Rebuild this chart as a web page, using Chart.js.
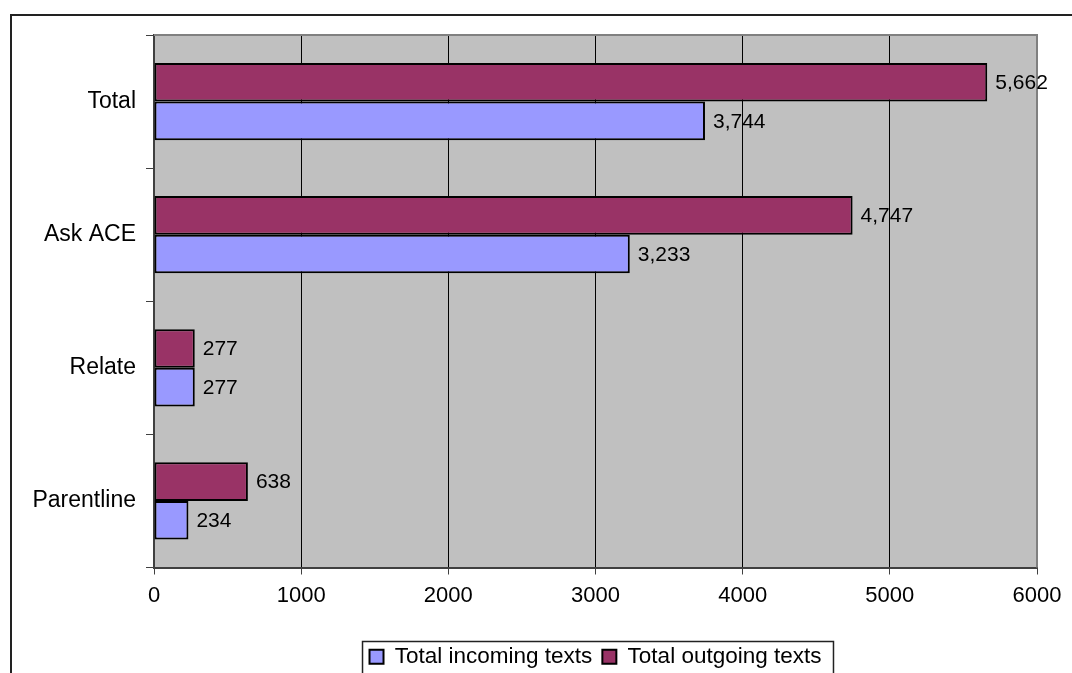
<!DOCTYPE html>
<html>
<head>
<meta charset="utf-8">
<script src="https://cdn.jsdelivr.net/npm/chart.js@4/dist/chart.umd.min.js"></script>
<style>
    html, body { margin: 0; padding: 0; background: #fff; overflow: hidden; }
    #frame { position: absolute; left: 10px; top: 14px; width: 1100px; height: 700px; border: 2px solid #222; }
    #chart { position: absolute; left: 0; top: 0; }
</style>
</head>
<body>
<div id="frame"></div>
<canvas id="chart" width="1100" height="678"></canvas>
<script>
const categories = ["Total", "Ask ACE", "Relate", "Parentline"];
const outgoingTexts = [5662, 4747, 277, 638];
const incomingTexts = [3744, 3233, 277, 234];

const C_OUT = "#993366";
const C_IN = "#9999FF";
const FONT = "'Liberation Sans', Arial, sans-serif";

Chart.defaults.font.family = FONT;
Chart.defaults.font.size = 21;
Chart.defaults.color = "#000";

// grey plot background + top/right border
const plotArea = {
    id: "plotArea",
    beforeDraw(chart) {
        const {ctx, chartArea: a} = chart;
        ctx.save();
        ctx.fillStyle = "#C0C0C0";
        ctx.fillRect(a.left, a.top, a.right - a.left, a.bottom - a.top);
        ctx.restore();
    },
    beforeDatasetsDraw(chart) {
        const {ctx, chartArea: a} = chart;
        ctx.save();
        ctx.strokeStyle = "#808080";
        ctx.lineWidth = 2;
        ctx.beginPath();
        ctx.moveTo(a.left, a.top);
        ctx.lineTo(a.right, a.top);
        ctx.lineTo(a.right, a.bottom);
        ctx.stroke();
        ctx.restore();
    }
};

// value labels at the end of each bar
const barLabels = {
    id: "barLabels",
    afterDatasetsDraw(chart) {
        const {ctx} = chart;
        ctx.save();
        ctx.font = "21px " + FONT;
        ctx.fillStyle = "#000";
        ctx.textAlign = "left";
        ctx.textBaseline = "middle";
        chart.data.datasets.forEach((ds, i) => {
            chart.getDatasetMeta(i).data.forEach((bar, j) => {
                ctx.fillText(ds.data[j].toLocaleString("en-US"), bar.x + 8, bar.y + 1);
            });
        });
        ctx.restore();
    }
};

// box round the legend
const legendBox = {
    id: "legendBox",
    afterDraw(chart) {
        const lg = chart.legend;
        if (!lg || !lg.legendHitBoxes.length) return;
        const boxes = lg.legendHitBoxes;
        const left = Math.min(...boxes.map(b => b.left)) - 7;
        const right = Math.max(...boxes.map(b => b.left + b.width)) + 12;
        const top = Math.min(...boxes.map(b => b.top)) - 4;
        const {ctx} = chart;
        ctx.save();
        ctx.strokeStyle = "#222";
        ctx.lineWidth = 1.5;
        ctx.strokeRect(left, top, right - left, 60);
        ctx.restore();
    }
};

new Chart(document.getElementById("chart"), {
    type: "bar",
    data: {
        labels: categories,
        datasets: [
            {
                label: "Total outgoing texts",
                data: outgoingTexts,
                backgroundColor: C_OUT,
                borderColor: "#000",
                borderWidth: 2,
                borderSkipped: false,
                categoryPercentage: 0.58,
                barPercentage: 1
            },
            {
                label: "Total incoming texts",
                data: incomingTexts,
                backgroundColor: C_IN,
                borderColor: "#000",
                borderWidth: 2,
                borderSkipped: false,
                categoryPercentage: 0.58,
                barPercentage: 1
            }
        ]
    },
    options: {
        indexAxis: "y",
        responsive: false,
        devicePixelRatio: 1,
        animation: false,
        layout: {padding: {top: 35, right: 63, left: 0, bottom: 0}},
        scales: {
            x: {
                min: 0,
                max: 6000,
                ticks: {stepSize: 1000, padding: 8, font: {size: 22}, callback: (v) => String(v)},
                grid: {color: "#000", lineWidth: 1, tickLength: 7, tickColor: "#404040"},
                border: {color: "#404040", width: 2},
                afterFit: (s) => { s.height = 68; }
            },
            y: {
                ticks: {padding: 10, font: {size: 23}},
                grid: {drawOnChartArea: false, tickLength: 8, color: "#404040", offset: true},
                border: {color: "#404040", width: 2},
                afterFit: (s) => { s.width = 154; }
            }
        },
        plugins: {
            legend: {
                position: "bottom",
                fullSize: false,
                reverse: true,
                labels: {boxWidth: 14, boxHeight: 14, padding: 10, font: {size: 22.5}, color: "#000"}
            },
            tooltip: {enabled: false}
        }
    },
    plugins: [plotArea, barLabels, legendBox]
});
</script>
</body>
</html>
